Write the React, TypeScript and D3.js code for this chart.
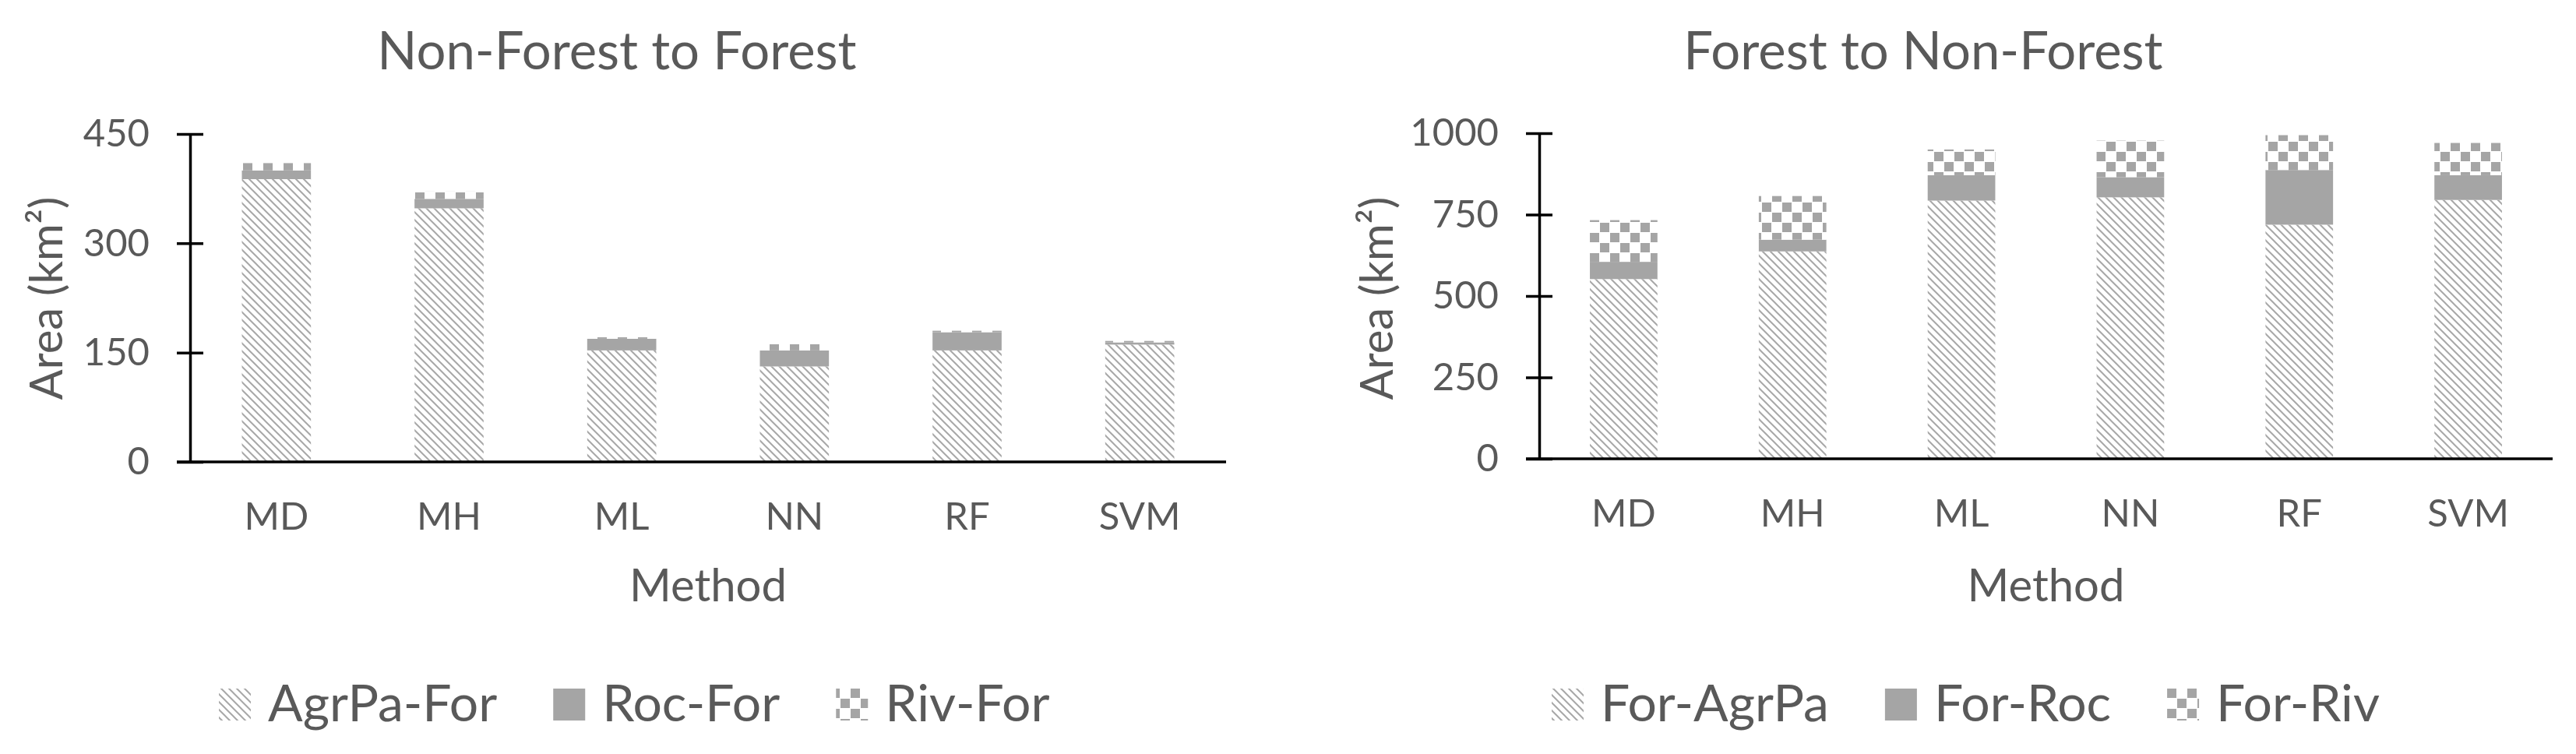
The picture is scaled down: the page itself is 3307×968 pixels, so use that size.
import * as d3 from 'd3'
import { useEffect, useRef } from 'react'

// methods on the x axis
const methods = ['MD', 'MH', 'ML', 'NN', 'RF', 'SVM']

// Non-Forest to Forest (km2)
const nfKeys = ['AgrPa-For', 'Roc-For', 'Riv-For']
const agrpaFor = [388, 348, 153, 131, 153, 161]
const rocFor = [12, 13, 16, 22, 25, 3]
const rivFor = [10, 10, 2, 9, 2, 2]
const nfTicks = [0, 150, 300, 450]

// Forest to Non-Forest (km2)
const fnfKeys = ['For-AgrPa', 'For-Roc', 'For-Riv']
const forAgrpa = [552, 637, 793, 803, 719, 795]
const forRoc = [53, 36, 78, 62, 168, 76]
const forRiv = [128, 134, 79, 112, 107, 99]
const fnfTicks = [0, 250, 500, 750, 1000]

const FONT = 'Lato, "Open Sans", sans-serif'
const TXT = '#595959'
const GRAY = '#a5a5a5'
const fills = ['url(#hatch)', GRAY, 'url(#checker)']

export default function App() {
	const svgRef = useRef(null)

	useEffect(() => {
		const svg = d3.select(svgRef.current)
		svg.selectAll('*').remove()

		// ---- patterns
		const defs = svg.append('defs')
		const hatch = defs
			.append('pattern')
			.attr('id', 'hatch')
			.attr('patternUnits', 'userSpaceOnUse')
			.attr('width', 10)
			.attr('height', 10)
		hatch.append('rect').attr('width', 10).attr('height', 10).attr('fill', '#fff')
		hatch
			.append('path')
			.attr('d', 'M-1,-1 L11,11 M-6,4 L1,11 M4,-6 L11,1')
			.attr('stroke', '#a8a8a8')
			.attr('stroke-width', 2)
		const checker = defs
			.append('pattern')
			.attr('id', 'checker')
			.attr('patternUnits', 'userSpaceOnUse')
			.attr('width', 26)
			.attr('height', 26)
		checker.append('rect').attr('width', 26).attr('height', 26).attr('fill', '#fff')
		checker.append('rect').attr('width', 12).attr('height', 12).attr('fill', GRAY)
		checker.append('rect').attr('x', 13).attr('y', 13).attr('width', 12).attr('height', 12).attr('fill', GRAY)

		const drawChart = (opt) => {
			const { keys, series, ticks, max, x0, x1, yTop, yBot, title, titleX, yLabelX, legendX } = opt
			const g = svg.append('g')

			const rows = methods.map((m, i) => {
				const r = { method: m }
				keys.forEach((k, j) => (r[k] = series[j][i]))
				return r
			})
			const stacked = d3.stack().keys(keys)(rows)

			const x = d3.scaleBand().domain(methods).range([x0, x1]).paddingInner(0.6).paddingOuter(0.3)
			const y = d3.scaleLinear().domain([0, max]).range([yBot, yTop])

			// ---- bars
			stacked.forEach((layer, j) => {
				g.append('g')
					.selectAll('rect')
					.data(layer)
					.join('rect')
					.attr('x', (d) => x(d.data.method))
					.attr('width', x.bandwidth())
					.attr('y', (d) => y(d[1]))
					.attr('height', (d) => y(d[0]) - y(d[1]))
					.attr('fill', fills[j])
			})

			// ---- y axis
			const yAxis = g
				.append('g')
				.attr('transform', `translate(${x0},0)`)
				.call(d3.axisLeft(y).tickValues(ticks).tickFormat(d3.format('d')).tickSize(0).tickPadding(52))
			yAxis.select('.domain').attr('stroke', '#000').attr('stroke-width', 3.5)
			yAxis.selectAll('text').attr('font-family', FONT).attr('font-size', 49).attr('fill', TXT)
			yAxis
				.selectAll('.tick')
				.append('line')
				.attr('x1', -17)
				.attr('x2', 17)
				.attr('stroke', '#000')
				.attr('stroke-width', 3.5)

			// ---- x axis
			const xAxis = g
				.append('g')
				.attr('transform', `translate(0,${yBot})`)
				.call(d3.axisBottom(x).tickSize(0).tickPadding(52))
			xAxis.select('.domain').remove()
			xAxis.selectAll('text').attr('font-family', FONT).attr('font-size', 49).attr('fill', TXT)
			g.append('line')
				.attr('x1', x0 - 17)
				.attr('x2', x1)
				.attr('y1', yBot)
				.attr('y2', yBot)
				.attr('stroke', '#000')
				.attr('stroke-width', 3.5)

			// ---- titles
			g.append('text')
				.attr('x', titleX)
				.attr('y', 89)
				.attr('text-anchor', 'middle')
				.attr('font-family', FONT)
				.attr('font-size', 67)
				.attr('fill', TXT)
				.text(title)
			g.append('text')
				.attr('x', (x0 + x1) / 2)
				.attr('y', 772)
				.attr('text-anchor', 'middle')
				.attr('font-family', FONT)
				.attr('font-size', 58)
				.attr('fill', TXT)
				.text('Method')
			g.append('text')
				.attr('transform', `translate(${yLabelX},383) rotate(-90)`)
				.attr('text-anchor', 'middle')
				.attr('font-family', FONT)
				.attr('font-size', 58)
				.attr('fill', TXT)
				.text('Area (km²)')

			// ---- legend
			let lx = legendX
			keys.forEach((k, j) => {
				g.append('rect')
					.attr('x', lx)
					.attr('y', 884)
					.attr('width', 41)
					.attr('height', 41)
					.attr('fill', fills[j])
				const t = g
					.append('text')
					.attr('x', lx + 63)
					.attr('y', 926)
					.attr('font-family', FONT)
					.attr('font-size', 66)
					.attr('fill', TXT)
					.text(k)
				lx += 63 + t.node().getComputedTextLength() + 72
			})
		}

		drawChart({
			keys: nfKeys,
			series: [agrpaFor, rocFor, rivFor],
			ticks: nfTicks,
			max: 450,
			x0: 244,
			x1: 1574,
			yTop: 172,
			yBot: 593,
			title: 'Non-Forest to Forest',
			titleX: 792,
			yLabelX: 80,
			legendX: 281,
		})
		drawChart({
			keys: fnfKeys,
			series: [forAgrpa, forRoc, forRiv],
			ticks: fnfTicks,
			max: 1000,
			x0: 1976,
			x1: 3277,
			yTop: 171,
			yBot: 589,
			title: 'Forest to Non-Forest',
			titleX: 2469,
			yLabelX: 1788,
			legendX: 1992,
		})
	}, [])

	return (
		<svg
			ref={svgRef}
			width={3307}
			height={968}
			style={{ position: 'absolute', left: 0, top: 0, background: '#fff' }}
		/>
	)
}
